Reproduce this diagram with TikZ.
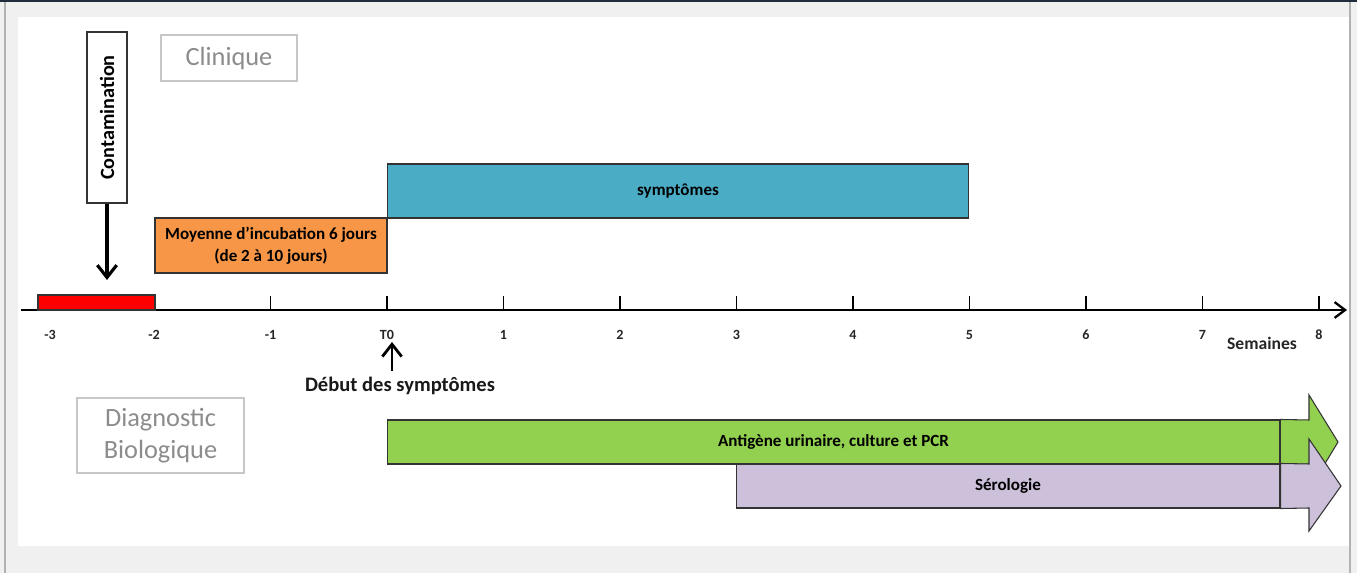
\documentclass[tikz,border=0pt]{standalone}
\usepackage{fontspec}
\setmainfont{Carlito}
\usetikzlibrary{arrows.meta}

\definecolor{rouge}{HTML}{FF0000}
\definecolor{orange}{HTML}{F79646}
\definecolor{bleu}{HTML}{4BACC6}
\definecolor{vert}{HTML}{92D050}
\definecolor{lilas}{HTML}{CCC0DA}
\definecolor{marine}{HTML}{1F2D3D}

\begin{document}
\begin{tikzpicture}[x=0.02cm,y=-0.02cm,
        bar/.style={draw=black!80,line width=0.6pt,inner sep=0pt,font=\bfseries\fontsize{9.7}{12.5}\selectfont,align=center},
        titre/.style={draw=black!22,text=black!45,line width=0.6pt,inner sep=0pt,font=\fontsize{15}{18}\selectfont,align=center},
        graduation/.style={font=\bfseries\fontsize{8}{9}\selectfont,text=black!85},
        fleche/.style={line width=1.8pt,-{Straight Barb[length=7pt,width=11pt]}}]
    \useasboundingbox (0,0) rectangle (1357,573);
    \fill[black!6] (0,0) rectangle (1357,573);
    \fill[white] (18,17) rectangle (1349,546);
    \fill[marine] (0,0) rectangle (1357,2.5);
    \fill[black!30] (4,2.5) rectangle (6,573);
    \fill[black!30] (1349,2.5) rectangle (1351,573);

    % axe des semaines
    \coordinate (debut axe) at (21,310);
    \coordinate (fin axe) at (1347,310);
    \draw[line width=1.3pt,-{Straight Barb[length=6pt,width=9pt]}] (debut axe) -- (fin axe);
    \foreach \t in {-3,...,8} {
        \coordinate (t\t) at (387+116.5*\t,310);
        \draw[line width=0.8pt] (t\t) -- ++(0,-14);
    }
    \foreach \t in {-2,-1,1,2,3,4,5,6,7,8}
        \node[graduation] (lab\t) at (387+116.5*\t,335) {\t};
    \node[graduation] (lab-3) at (50,335) {-3};
    \node[graduation] (lab0) at (387,335) {T0};
    \node[font=\bfseries\fontsize{10}{11}\selectfont,text=black!85] (semaines) at (1262,343) {Semaines};

    \node[bar,fill=rouge,minimum width=2.34cm,minimum height=0.3cm] (periode) at (96.5,302.5) {};

    % clinique
    \node[titre,minimum width=2.72cm,minimum height=0.92cm] (clinique) at (229,58) {Clinique};
    \node[bar,fill=white,minimum width=3.42cm,minimum height=0.8cm,rotate=90,font=\bfseries\fontsize{11.5}{12}\selectfont] (contamination) at (107,117.5) {Contamination};
    \coordinate (point contamination) at (107,280);
    \draw[fleche] (contamination.west) -- (point contamination);

    \node[bar,fill=orange,minimum width=4.64cm,minimum height=1.1cm] (incubation) at (271,245.5) {Moyenne d'incubation 6 jours\\(de 2 à 10 jours)};
    \node[bar,fill=bleu,minimum width=11.64cm,minimum height=1.08cm] (symptomes) at (678,191) {symptômes};

    \node[font=\bfseries\fontsize{11.7}{13}\selectfont,text=black!90] (debut) at (400,386) {Début des symptômes};
    \draw[fleche,line width=1.6pt] (debut.north -| 392,0) -- (392,342);

    % diagnostic
    \node[titre,minimum width=3.34cm,minimum height=1.5cm] (diagnostic) at (160.5,435.5) {Diagnostic\\Biologique};

    \node[bar,fill=vert,minimum width=17.86cm,minimum height=0.88cm] (antigene) at (833.5,442) {Antigène urinaire, culture et PCR};
    \filldraw[fill=vert,draw=black!80,line width=0.6pt] (antigene.north east) -- (1309,420) -- (1309,395) -- (1338,442)
        -- (1309,490) -- (1309,464) -- (antigene.south east) -- cycle;

    \node[bar,fill=lilas,minimum width=10.88cm,minimum height=0.88cm] (serologie) at (1008,486) {Sérologie};
    \filldraw[fill=lilas,draw=black!80,line width=0.6pt] (serologie.north east) -- (1309,464) -- (1309,439) -- (1341,486)
        -- (1309,531) -- (1309,508) -- (serologie.south east) -- cycle;
\end{tikzpicture}
\end{document}
